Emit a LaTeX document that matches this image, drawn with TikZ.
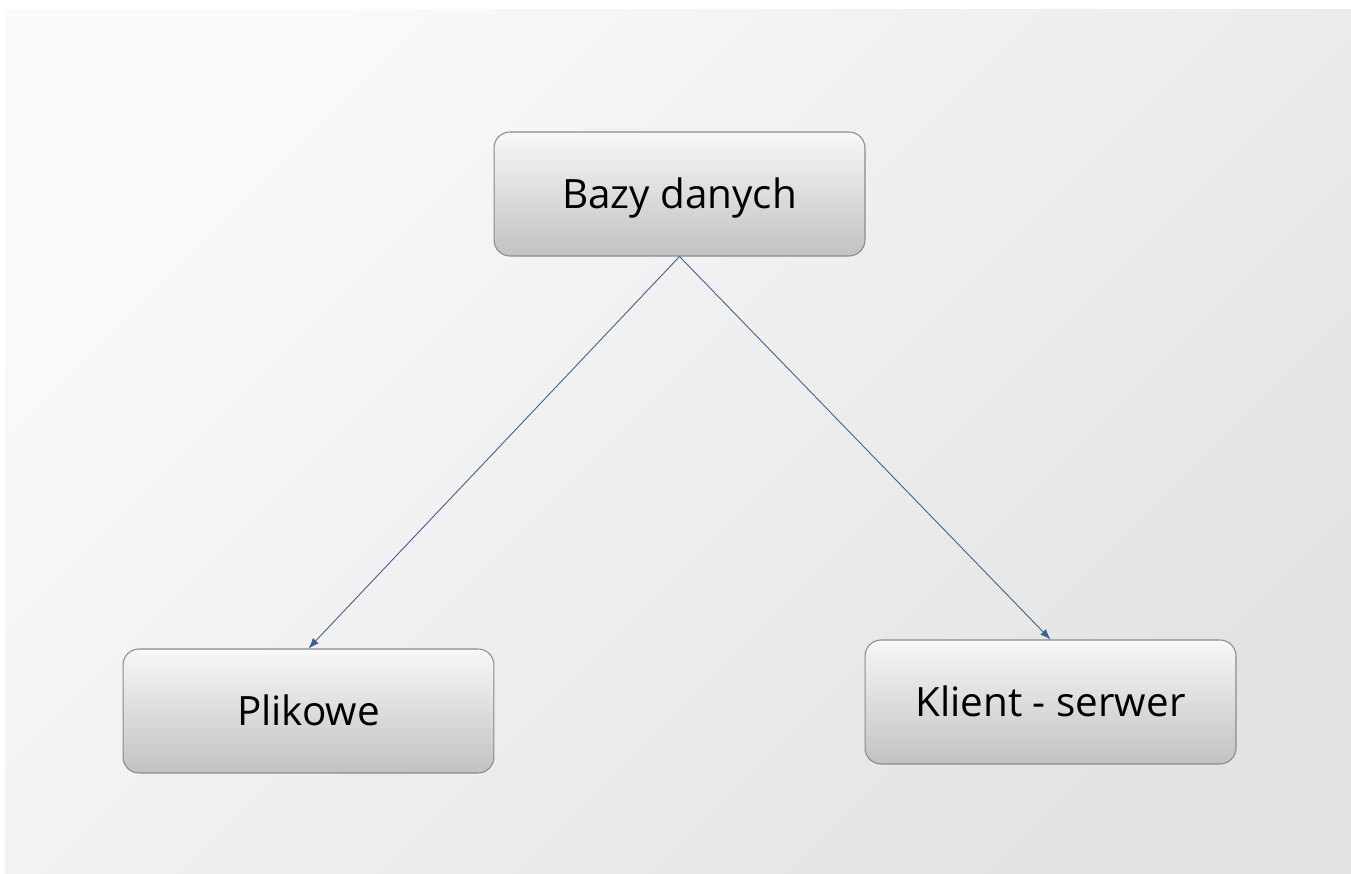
\documentclass[tikz,border=0pt]{standalone}
\usepackage{fontspec}
\setmainfont{Open Sans}
\usepackage{xcolor}
\usepackage{tikz}
\usetikzlibrary{shapes,arrows.meta,positioning}

\definecolor{linkblue}{HTML}{3B5F94}
\definecolor{boxedge}{HTML}{8A8A8A}

\begin{document}
\begin{tikzpicture}[x=0.02cm, y=-0.02cm,
    box/.style={rectangle, rounded corners=0.32cm, draw=boxedge, line width=0.6pt,
        top color=white!97!black, bottom color=black!24, minimum width=7.42cm,
        minimum height=2.48cm, text centered, text height=17pt, text depth=0pt,
        font=\fontsize{23}{27}\selectfont},
    link/.style={-{Latex[length=6pt, width=4.5pt]}, draw=linkblue, line width=0.5pt}]
    % Background
    \useasboundingbox (0,0) rectangle (1351,874);
    \shade[top color=white!98!black, bottom color=black!11, shading angle=45] (5,10) rectangle (1351,874);

    % Nodes
    \node [box] (bazy) at (679.5,194) {Bazy danych};
    \node [box] (plikowe) at (308.5,711) {Plikowe};
    \node [box] (klient) at (1050.5,702) {Klient - serwer};

    % Path
    \draw [link] (bazy.south) -- (plikowe.north);
    \draw [link] (bazy.south) -- (klient.north);
\end{tikzpicture}
\end{document}
